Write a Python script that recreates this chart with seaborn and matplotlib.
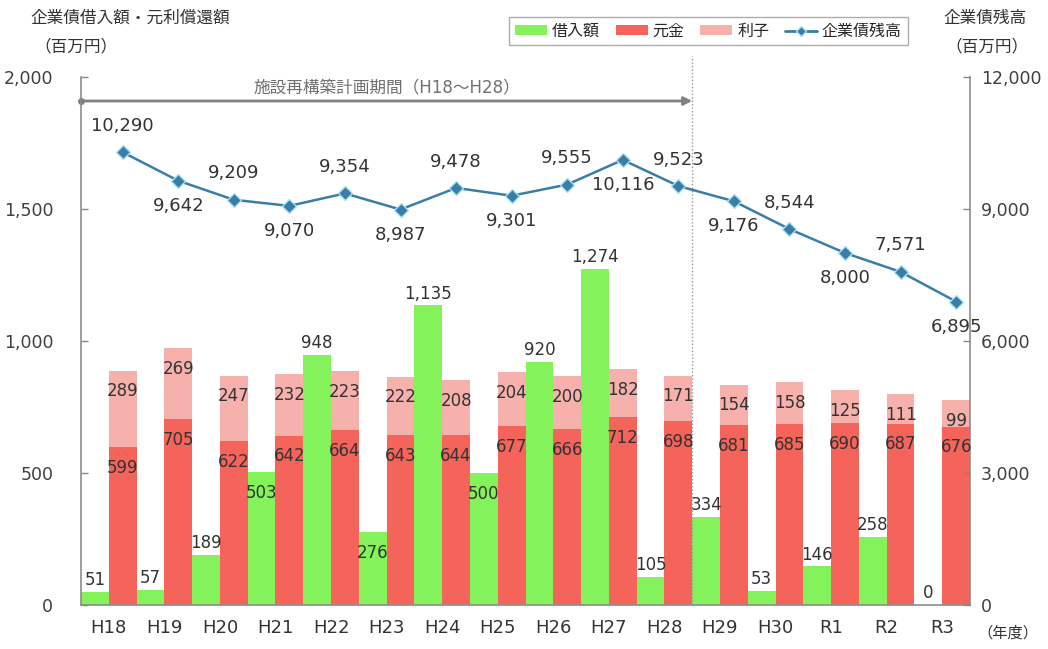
import numpy as np
import pandas as pd
import matplotlib
matplotlib.use("Agg")
import matplotlib.pyplot as plt
import seaborn as sns
from matplotlib.patches import Patch
from matplotlib.lines import Line2D
from matplotlib.ticker import FuncFormatter, MultipleLocator, FixedLocator

years = ["H18", "H19", "H20", "H21", "H22", "H23", "H24", "H25",
         "H26", "H27", "H28", "H29", "H30", "R1", "R2", "R3"]
borrowing = [51, 57, 189, 503, 948, 276, 1135, 500, 920, 1274, 105, 334, 53, 146, 258, 0]
principal = [599, 705, 622, 642, 664, 643, 644, 677, 666, 712, 698, 681, 685, 690, 687, 676]
interest = [289, 269, 247, 232, 223, 222, 208, 204, 200, 182, 171, 154, 158, 125, 111, 99]
balance = [10290, 9642, 9209, 9070, 9354, 8987, 9478, 9301, 9555, 10116, 9523,
           9176, 8544, 8000, 7571, 6895]
green_label_inside = [False, False, False, True, False, True, False, True,
                      False, False, False, False, False, False, False, False]

GREEN = "#84F25A"
RED = "#F4645A"
PINK = "#F6B1AC"
LINE = "#3A7EA8"
TXT = "#333333"

sns.set_theme(style="white")
plt.rcParams["font.family"] = ["DejaVu Sans", "Noto Sans CJK JP"]

fig = plt.figure(figsize=(10.48, 6.49), dpi=100)
ax = fig.add_axes([0.0773, 0.0678, 0.8483, 0.8136])

total = [p + i for p, i in zip(principal, interest)]
df1 = pd.DataFrame({"年度": years * 2, "value": borrowing + total,
                    "kind": ["借入額"] * len(years) + ["利子"] * len(years)})
sns.barplot(data=df1, x="年度", y="value", hue="kind", hue_order=["借入額", "利子"],
            palette={"借入額": GREEN, "利子": PINK}, width=1.0, dodge=True,
            saturation=1, errorbar=None, legend=False, linewidth=0, ax=ax)
df2 = pd.DataFrame({"年度": years, "value": principal, "kind": ["元金"] * len(years)})
sns.barplot(data=df2, x="年度", y="value", hue="kind", hue_order=["借入額", "元金"],
            palette={"借入額": GREEN, "元金": RED}, width=1.0, dodge=True,
            saturation=1, errorbar=None, legend=False, linewidth=0, ax=ax)

ax.set_xlim(-0.5, len(years) - 0.5)
ax.set_ylim(0, 2000)
ax.set_xlabel("")
ax.set_ylabel("")
ax.yaxis.set_major_locator(MultipleLocator(500))
ax.yaxis.set_major_formatter(FuncFormatter(lambda v, p: f"{int(v):,}"))
ax.tick_params(axis="y", direction="in", length=5, width=1, color="#888888",
               labelsize=12.5, labelcolor="#404040", pad=20)
ax.tick_params(axis="x", which="major", length=0, labelsize=13, labelcolor=TXT, pad=10)
ax.xaxis.set_minor_locator(FixedLocator(np.arange(-0.5, len(years), 1.0)))
ax.tick_params(axis="x", which="minor", direction="in", length=4, color="#888888")
for s in ["left", "right", "bottom"]:
    ax.spines[s].set_color("#8c8c8c")
    ax.spines[s].set_linewidth(1.2)
ax.spines["top"].set_visible(False)

# bar labels
for i in range(len(years)):
    b = borrowing[i]
    if green_label_inside[i]:
        ax.annotate(f"{b:,}", (i - 0.25, b), xytext=(0, -15), textcoords="offset points",
                    ha="center", va="center", fontsize=12, color=TXT)
    else:
        ax.annotate(f"{b:,}", (i - 0.25, b), xytext=(0, 2), textcoords="offset points",
                    ha="center", va="bottom", fontsize=12, color=TXT)
    ax.annotate(f"{principal[i]:,}", (i + 0.25, principal[i]), xytext=(0, -15),
                textcoords="offset points", ha="center", va="center", fontsize=12, color=TXT)
    ax.annotate(f"{interest[i]:,}", (i + 0.25, total[i]), xytext=(0, -15),
                textcoords="offset points", ha="center", va="center", fontsize=12, color=TXT)

# balance line on secondary axis
ax2 = ax.twinx()
sns.lineplot(x=np.arange(len(years)) + 0.25, y=balance, ax=ax2, color=LINE, linewidth=1.8,
             marker="D", markersize=7, markeredgecolor="#a8e0f5", markeredgewidth=1)
ax2.set_ylim(0, 12000)
ax2.set_xlim(-0.5, len(years) - 0.5)
ax2.yaxis.set_major_locator(MultipleLocator(3000))
ax2.yaxis.set_major_formatter(FuncFormatter(lambda v, p: f"{int(v):,}"))
ax2.tick_params(axis="y", direction="in", length=5, width=1, color="#888888",
                labelsize=12.5, labelcolor="#404040", pad=8)
for s in ["left", "right", "bottom", "top"]:
    ax2.spines[s].set_visible(False)
ax2.set_ylabel("")
for i, v in enumerate(balance):
    dy = 19 if i % 2 == 0 else -18
    ax2.annotate(f"{v:,}", (i + 0.25, v), xytext=(0, dy), textcoords="offset points",
                 ha="center", va="center", fontsize=13, color=TXT)

# plan period annotation
ax.axvline(10.5, ymin=0, ymax=1.04, color="#999999", linestyle=(0, (1, 1.5)),
           linewidth=1, clip_on=False)
ax.annotate("", xy=(10.5, 1909), xytext=(-0.5, 1909),
            arrowprops=dict(arrowstyle="-|>", color="#808080", lw=2, shrinkA=0, shrinkB=0,
                            mutation_scale=12))
ax.plot([-0.5], [1909], marker="o", markersize=4, color="#808080", clip_on=False)
ax.text(5.0, 1960, "施設再構築計画期間（H18～H28）", ha="center", va="center",
        fontsize=12, color="#707070")

# axis titles
fig.text(0.029, 0.972, "企業債借入額・元利償還額", ha="left", va="center", fontsize=12, color=TXT)
fig.text(0.033, 0.928, "（百万円）", ha="left", va="center", fontsize=12, color=TXT)
fig.text(0.940, 0.972, "企業債残高", ha="center", va="center", fontsize=12, color=TXT)
fig.text(0.942, 0.928, "（百万円）", ha="center", va="center", fontsize=12, color=TXT)
fig.text(0.962, 0.025, "（年度）", ha="center", va="center", fontsize=11, color=TXT)

# legend
handles = [Patch(facecolor=GREEN, edgecolor="none"),
           Patch(facecolor=RED, edgecolor="none"),
           Patch(facecolor=PINK, edgecolor="none"),
           Line2D([0], [0], color=LINE, lw=2, marker="D", markersize=5,
                  markeredgecolor="#a8e0f5")]
labels = ["借入額", "元金", "利子", "企業債残高"]
leg = fig.legend(handles, labels, loc="center", bbox_to_anchor=(0.676, 0.952), ncol=4,
                 frameon=True, fancybox=False, edgecolor="#999999", fontsize=11.5,
                 handlelength=2.0, handleheight=0.5, columnspacing=1.0, handletextpad=0.3,
                 borderpad=0.4)
leg.get_frame().set_linewidth(1)

fig.savefig("out.png", dpi=100)
